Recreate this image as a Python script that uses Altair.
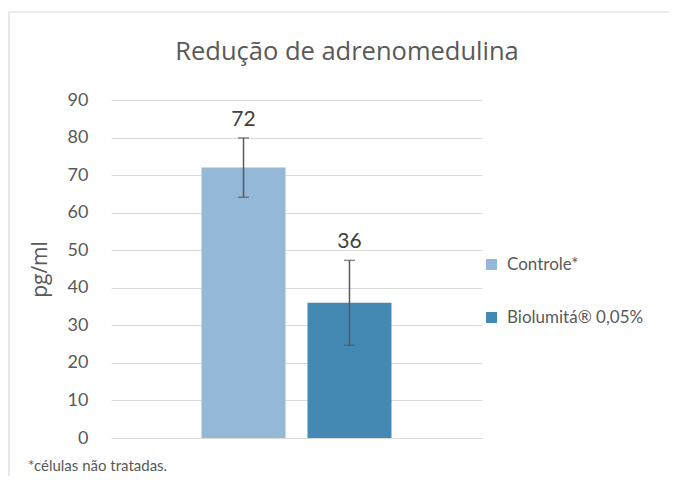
import altair as alt
import pandas as pd

series = ["Controle*", "Biolumitá® 0,05%"]
values = [72, 36]
errors = [7.9, 11.3]
colors = ["#93b8d8", "#4389b4"]
y_ticks = [0, 10, 20, 30, 40, 50, 60, 70, 80, 90]
title_text = "Redução de adrenomedulina"
y_title = "pg/ml"
footnote = "*células não tratadas."

df = pd.DataFrame({"serie": series, "valor": values, "erro": errors})
df["lo"] = df["valor"] - df["erro"]
df["hi"] = df["valor"] + df["erro"]
df["label"] = df["valor"].astype(str)

W, H = 371, 338
GREY = "#595959"

xenc = alt.X("serie:N", sort=series,
             scale=alt.Scale(domain=series, paddingInner=0.2075, paddingOuter=0.854),
             axis=None)
yscale = alt.Scale(domain=[0, 90], nice=False, zero=True)
yaxis = alt.Axis(values=y_ticks, title=y_title, domain=False, ticks=False, tickSize=0,
                 labelPadding=23, labelFont="Lato", labelFontSize=18, labelColor=GREY,
                 labelOverlap=False,
                 titleFont="Open Sans", titleFontSize=21, titleColor=GREY,
                 titleFontWeight="normal", titlePadding=17,
                 grid=True, gridColor="#d9d9d9", gridWidth=1)

base = alt.Chart(df)

bars = base.mark_bar().encode(
    x=xenc,
    y=alt.Y("valor:Q", scale=yscale, axis=yaxis, title=y_title),
    color=alt.Color("serie:N", sort=series,
                    scale=alt.Scale(domain=series, range=colors),
                    legend=alt.Legend(orient="none", legendX=372, legendY=156, title=None,
                                      symbolType="square", symbolSize=121, symbolStrokeWidth=0,
                                      labelFont="Lato", labelFontSize=17, labelColor=GREY,
                                      rowPadding=35, labelOffset=7)),
)

rules = base.mark_rule(color=GREY, strokeWidth=1.5).encode(
    x=xenc, y=alt.Y("lo:Q", scale=yscale, axis=yaxis, title=y_title), y2="hi:Q")

caps_hi = base.mark_tick(color=GREY, thickness=1.5, size=11, orient="horizontal").encode(
    x=xenc, y=alt.Y("hi:Q", scale=yscale, axis=yaxis, title=y_title))
caps_lo = base.mark_tick(color=GREY, thickness=1.5, size=11, orient="horizontal").encode(
    x=xenc, y=alt.Y("lo:Q", scale=yscale, axis=yaxis, title=y_title))

labels = base.mark_text(font="Lato", fontSize=21, color="#404040", baseline="bottom", dy=-8).encode(
    x=xenc, y=alt.Y("hi:Q", scale=yscale, axis=yaxis, title=y_title), text="label:N")

border = alt.Chart(pd.DataFrame({"a": [0]})).mark_rect(
    fill="transparent", stroke="#d9d9d9", strokeWidth=1.2).encode(
    x=alt.value(-102), x2=alt.value(600), y=alt.value(-88), y2=alt.value(600))

title = alt.Chart(pd.DataFrame({"t": [title_text]})).mark_text(
    font="Open Sans", fontSize=25.5, color=GREY, align="center", baseline="middle").encode(
    x=alt.value(236), y=alt.value(-48), text="t:N")

foot = alt.Chart(pd.DataFrame({"t": [footnote]})).mark_text(
    font="Lato", fontSize=15, color=GREY, align="left", baseline="middle").encode(
    x=alt.value(-83), y=alt.value(366), text="t:N")

chart = alt.layer(border, bars, rules, caps_hi, caps_lo, labels, title, foot).properties(
    width=W, height=H,
    autosize=alt.AutoSizeParams(type="none"),
    padding={"left": 103, "top": 92, "right": 187, "bottom": 38},
).configure(background="white").configure_view(stroke=None)

chart.save("out.html", embed_options={"renderer": "svg", "actions": False})
